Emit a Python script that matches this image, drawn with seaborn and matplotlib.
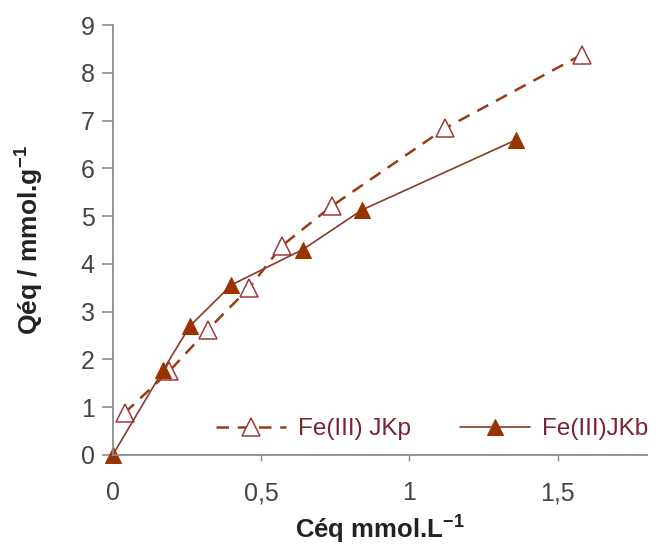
import matplotlib
matplotlib.use("Agg")
import matplotlib.pyplot as plt
import seaborn as sns
import pandas as pd

# Data
jkp_x = [0.04, 0.19, 0.32, 0.46, 0.57, 0.74, 1.12, 1.58]
jkp_y = [0.88, 1.75, 2.62, 3.50, 4.38, 5.22, 6.84, 8.38]
jkb_x = [0.0, 0.17, 0.26, 0.40, 0.64, 0.84, 1.36]
jkb_y = [0.0, 1.78, 2.70, 3.56, 4.30, 5.13, 6.60]
x_ticks = [0, 0.5, 1, 1.5]
x_ticklabels = ["0", "0,5", "1", "1,5"]
y_ticks = list(range(0, 10))
labels = ["Fe(III) JKp", "Fe(III)JKb"]

sns.set_theme(style="white")
plt.rcParams["font.family"] = ["Liberation Sans", "DejaVu Sans"]

fig = plt.figure(figsize=(6.56, 5.48), dpi=100)
ax = fig.add_axes([0.172, 0.170, 0.814, 0.784])

col = "#993300"
sns.lineplot(x=jkp_x, y=jkp_y, ax=ax, color="#9a3a16", linestyle=(0, (5, 3.5)),
             linewidth=1.8, marker="^", markersize=13, markerfacecolor="white",
             markeredgecolor="#a0383a", markeredgewidth=1.1, label=labels[0],
             clip_on=False)
sns.lineplot(x=jkb_x, y=jkb_y, ax=ax, color="#8a3a26", linestyle="-",
             linewidth=1.2, marker="^", markersize=12, markerfacecolor=col,
             markeredgecolor=col, label=labels[1], clip_on=False)

ax.set_xlim(0, 1.8)
ax.set_ylim(0, 9)
ax.set_xticks(x_ticks)
ax.set_xticklabels(x_ticklabels)
ax.set_yticks(y_ticks)

for s in ["top", "right"]:
    ax.spines[s].set_visible(False)
for s in ["left", "bottom"]:
    ax.spines[s].set_color("#8c8c8c")
    ax.spines[s].set_linewidth(1.3)

ax.tick_params(axis="y", direction="out", length=8, width=1.2, color="#8c8c8c",
               labelsize=18, labelcolor="#454545", pad=5, left=True)
ax.tick_params(axis="x", direction="out", length=4, width=1.0, color="#8c8c8c",
               labelsize=18, labelcolor="#454545", pad=15, bottom=True)

ax.set_xlabel("Céq mmol.L$^{\\mathregular{-1}}$", fontsize=18.5, fontweight="bold",
              color="#222222", labelpad=5)
ax.set_ylabel("Qéq / mmol.g$^{\\mathregular{-1}}$", fontsize=19, fontweight="bold",
              color="#222222", labelpad=26)

leg = ax.legend(ncol=2, frameon=False, loc="lower left",
                bbox_to_anchor=(0.165, 0.0), fontsize=17.5, handlelength=2.9,
                columnspacing=2.0, handletextpad=0.5, labelcolor="#7a2330",
                borderaxespad=0.2)

fig.savefig("out.png", dpi=100)
